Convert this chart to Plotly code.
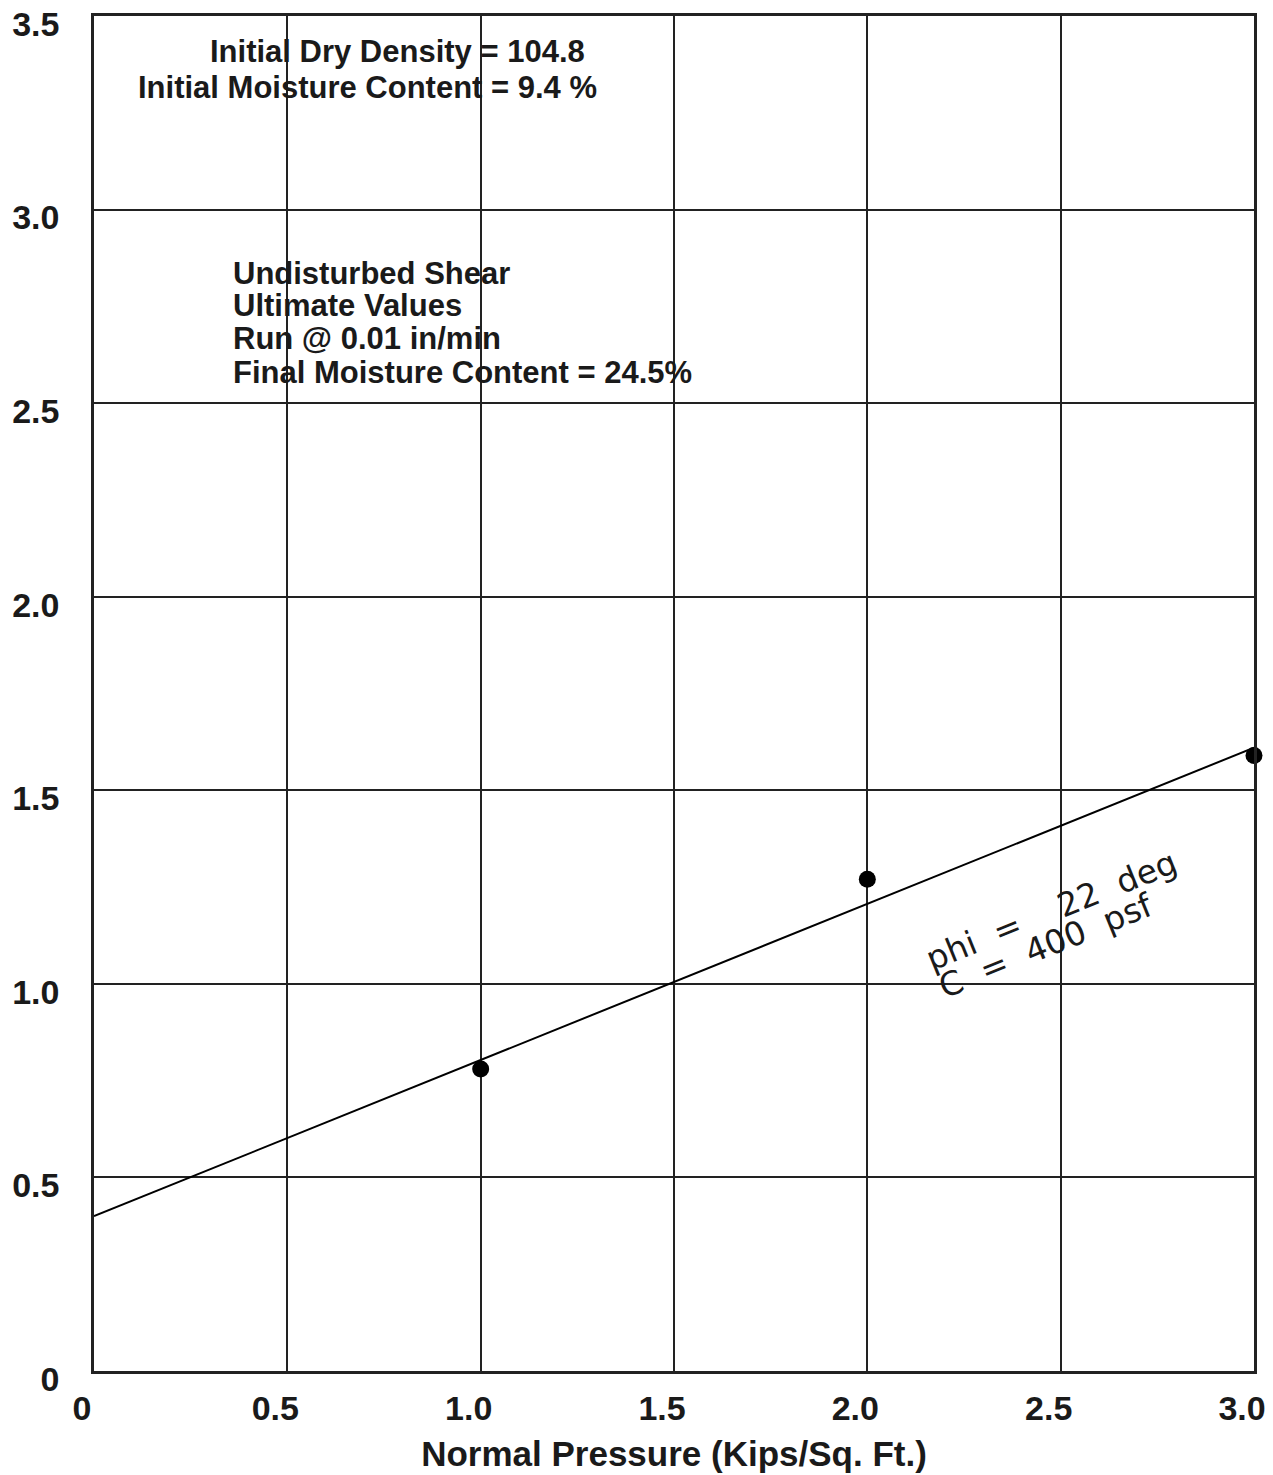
import plotly.graph_objects as go

# Data
normal_pressure = [1.0, 2.0, 3.0]
shear_stress = [0.78, 1.27, 1.59]
fit_x = [0.0, 3.0]
fit_y = [0.40, 1.61]
x_tickvals = [0, 0.5, 1.0, 1.5, 2.0, 2.5, 3.0]
x_ticktext = ["0", "0.5", "1.0", "1.5", "2.0", "2.5", "3.0"]
y_tickvals = [0, 0.5, 1.0, 1.5, 2.0, 2.5, 3.0, 3.5]
y_ticktext = ["0", "0.5", "1.0", "1.5", "2.0", "2.5", "3.0", "3.5"]
info_top = ["Initial Dry Density = 104.8", "Initial Moisture Content = 9.4 %"]
info_block = ["Undisturbed Shear", "Ultimate Values", "Run @ 0.01 in/min",
              "Final Moisture Content = 24.5%"]
fit_labels = ["phi\u00a0\u00a0=\u00a0\u00a0\u00a0\u00a022\u00a0\u00a0deg",
              "C\u00a0\u00a0=\u00a0\u00a0400\u00a0\u00a0psf"]

BOLD = "Liberation Sans"
OFF = 6  # page body offset
W, H = 1273 - OFF, 1475 - OFF
L, R, T, B = 92 - OFF, 21, 14 - OFF, 106
pw, ph = W - L - R, H - T - B


def px(xp):
    return (xp - OFF - L) / pw


def py(yp):
    return (H - B - (yp - OFF)) / ph


fig = go.Figure()
fig.add_trace(go.Scatter(x=fit_x, y=fit_y, mode="lines",
                         line=dict(color="black", width=2), showlegend=False,
                         cliponaxis=False))
fig.add_trace(go.Scatter(x=normal_pressure, y=shear_stress, mode="markers",
                         marker=dict(color="black", size=17), showlegend=False,
                         cliponaxis=False))

ann_font = dict(family=BOLD, size=31, color="#1a1a1a", weight="bold")
top_right = [585, 597]
top_y = [50, 86]
for txt, xr, yc in zip(info_top, top_right, top_y):
    fig.add_annotation(x=px(xr), y=py(yc), xref="paper", yref="paper", text=txt,
                       showarrow=False, font=ann_font, xanchor="right", yanchor="middle")

block_y = [271, 303, 336, 370]
for txt, yc in zip(info_block, block_y):
    fig.add_annotation(x=px(229), y=py(yc), xref="paper", yref="paper", text=txt,
                       showarrow=False, font=ann_font, xanchor="left", yanchor="middle")

rot_font = dict(family="DejaVu Sans", size=33, color="#1a1a1a")
fit_label_pos = [(2.475, 1.19), (2.462, 1.10)]
for txt, (xa, ya) in zip(fit_labels, fit_label_pos):
    fig.add_annotation(x=xa, y=ya, text=txt, showarrow=False, font=rot_font, textangle=-22)

tick_font = dict(family=BOLD, size=34, color="#1a1a1a", weight="bold")
fig.update_xaxes(range=[0, 3.0], tickvals=x_tickvals, ticktext=x_ticktext,
                 showgrid=True, gridcolor="#222", gridwidth=1.5, zeroline=False,
                 showline=True, linecolor="#222", linewidth=2.5, mirror=True,
                 ticks="", tickfont=tick_font, ticklabelstandoff=5,
                 ticklabelshift=-12, ticklabeloverflow="allow",
                 title=dict(text="Normal Pressure (Kips/Sq. Ft.)",
                            font=dict(family=BOLD, size=35, color="#1a1a1a", weight="bold"),
                            standoff=16))
fig.update_yaxes(range=[0, 3.5], tickvals=y_tickvals, ticktext=y_ticktext,
                 showgrid=True, gridcolor="#222", gridwidth=1.5, zeroline=False,
                 showline=True, linecolor="#222", linewidth=2.5, mirror=True,
                 ticks="", tickfont=tick_font, ticklabelstandoff=25,
                 ticklabelshift=8, ticklabeloverflow="allow")

fig.update_layout(width=W, height=H, margin=dict(l=L, r=R, t=T, b=B, autoexpand=False),
                  plot_bgcolor="white", paper_bgcolor="white")

fig.write_html("out.html")
